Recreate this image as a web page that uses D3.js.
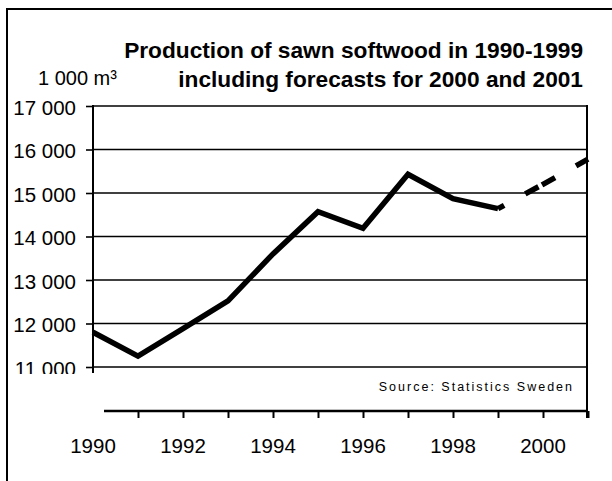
<!DOCTYPE html>
<html>
<head>
<meta charset="utf-8">
<script src="https://cdn.jsdelivr.net/npm/d3@7"></script>
<style>
  html, body { margin: 0; padding: 0; background: #fff; }
  svg { display: block; }
  text { font-family: "Liberation Sans", Arial, sans-serif; fill: #000; }
</style>
</head>
<body>
<svg id="chart" width="612" height="481"></svg>
<script>
// Production of sawn softwood, 1 000 m³
const years = [1990, 1991, 1992, 1993, 1994, 1995, 1996, 1997, 1998, 1999];
const production = [11800, 11250, 11880, 12520, 13600, 14570, 14190, 15430, 14870, 14640];
const forecastYears = [1999, 2000, 2001];
const forecast = [14640, 15200, 15780];
const yTicks = [11000, 12000, 13000, 14000, 15000, 16000, 17000];
const xLabelYears = [1990, 1992, 1994, 1996, 1998, 2000];
const xTickYears = [1991, 1992, 1993, 1994, 1995, 1996, 1997, 1998, 1999, 2000, 2001];

const titleLines = ["Production of sawn softwood in 1990-1999", "including forecasts for 2000 and 2001"];
const unitLabel = "1 000 m³";
const sourceLabel = "Source: Statistics Sweden";

const svg = d3.select("#chart");

const plot = { left: 93, right: 588, top: 106, bottom: 367 };
const xAxisY = 411;

const x = d3.scaleLinear().domain([1990, 2001]).range([plot.left, plot.right]);
const y = d3.scaleLinear().domain([11000, 17000]).range([plot.bottom, plot.top]);

const fmtSpace = v => d3.format(",")(v).replace(/,/g, " ");

// outer frame (open at right and bottom)
svg.append("path")
  .attr("d", "M7,481 L7,9 L612,9")
  .attr("fill", "none").attr("stroke", "#000").attr("stroke-width", 2);

// titles
svg.append("text").attr("x", 583).attr("y", 58)
  .attr("text-anchor", "end").attr("font-weight", "bold").attr("font-size", 22.7)
  .text(titleLines[0]);
svg.append("text").attr("x", 583).attr("y", 87)
  .attr("text-anchor", "end").attr("font-weight", "bold").attr("font-size", 22.7)
  .text(titleLines[1]);
svg.append("text").attr("x", 38).attr("y", 85)
  .attr("font-size", 20).text(unitLabel);

// horizontal gridlines
svg.append("g").selectAll("line").data(yTicks).join("line")
  .attr("x1", plot.left).attr("x2", plot.right - 1)
  .attr("y1", d => y(d)).attr("y2", d => y(d))
  .attr("stroke", "#000").attr("stroke-width", 1.6);

// y axis; the lowest label is cut off just under the axis end
svg.append("defs").append("clipPath").attr("id", "yclip")
  .append("rect").attr("x", -100).attr("y", 0).attr("width", 110).attr("height", 374);

const yAxis = d3.axisLeft(y).tickValues(yTicks).tickSize(7).tickSizeOuter(0)
  .tickFormat(fmtSpace).tickPadding(10);
const gy = svg.append("g")
  .attr("transform", `translate(${plot.left},0)`)
  .attr("clip-path", "url(#yclip)")
  .call(yAxis);
gy.select(".domain").remove();
gy.selectAll(".tick line").attr("stroke", "#000").attr("stroke-width", 1.6);
gy.selectAll(".tick text")
  .attr("font-family", "'Liberation Sans', Arial, sans-serif")
  .attr("font-size", 20.5).attr("fill", "#000").attr("dy", "0.4em");
svg.append("line")
  .attr("x1", plot.left).attr("x2", plot.left)
  .attr("y1", plot.top - 1).attr("y2", 373)
  .attr("stroke", "#000").attr("stroke-width", 2);

// right frame edge
svg.append("line")
  .attr("x1", plot.right - 1).attr("x2", plot.right - 1)
  .attr("y1", plot.top - 1).attr("y2", 418)
  .attr("stroke", "#000").attr("stroke-width", 2);

// x axis
const xAxis = d3.axisBottom(x).tickValues(xTickYears).tickSize(7).tickSizeOuter(0)
  .tickFormat("");
const gx = svg.append("g")
  .attr("transform", `translate(0,${xAxisY})`)
  .call(xAxis);
gx.select(".domain").remove();
gx.selectAll(".tick line").attr("stroke", "#000").attr("stroke-width", 2);
svg.append("line")
  .attr("x1", 104).attr("x2", plot.right)
  .attr("y1", xAxisY).attr("y2", xAxisY)
  .attr("stroke", "#000").attr("stroke-width", 2.5);

svg.append("g").selectAll("text").data(xLabelYears).join("text")
  .attr("x", d => x(d)).attr("y", 453)
  .attr("text-anchor", "middle").attr("font-size", 20.5)
  .text(d => d);

// source note
svg.append("text").attr("x", 574).attr("y", 391)
  .attr("text-anchor", "end").attr("font-size", 12.5)
  .attr("letter-spacing", 2)
  .text(sourceLabel);

// actual production
const line = d3.line().x(d => x(d[0])).y(d => y(d[1]));
svg.append("path")
  .datum(years.map((yr, i) => [yr, production[i]]))
  .attr("d", line)
  .attr("fill", "none").attr("stroke", "#000")
  .attr("stroke-width", 5.5).attr("stroke-linejoin", "miter");

// forecast
svg.append("path")
  .datum(forecastYears.map((yr, i) => [yr, forecast[i]]))
  .attr("d", line)
  .attr("fill", "none").attr("stroke", "#000")
  .attr("stroke-width", 5.5)
  .attr("stroke-dasharray", "15 4 15 24")
  .attr("stroke-dashoffset", 27);
</script>
</body>
</html>
